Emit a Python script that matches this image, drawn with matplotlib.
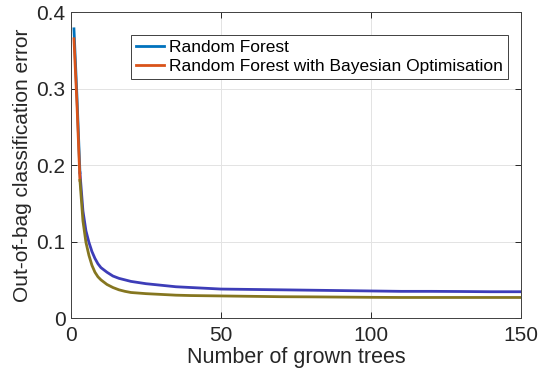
import numpy as np
import matplotlib
matplotlib.use('Agg')
import matplotlib.pyplot as plt

plt.rcParams['font.family'] = ['Liberation Sans', 'DejaVu Sans']

# number of grown trees and out-of-bag error
trees = [1, 2, 3, 4, 5, 6, 7, 8, 9, 10, 12, 14, 16, 18, 20, 25, 30, 35, 40,
         50, 60, 70, 80, 90, 100, 110, 120, 130, 140, 150]
err_rf = [0.378, 0.29, 0.19, 0.14, 0.114, 0.099, 0.087, 0.078, 0.071, 0.066,
          0.060, 0.055, 0.052, 0.050, 0.048, 0.045, 0.043, 0.041, 0.040,
          0.038, 0.0375, 0.037, 0.0365, 0.036, 0.0355, 0.035, 0.035, 0.0348,
          0.0345, 0.0345]
err_bo = [0.365, 0.28, 0.18, 0.127, 0.099, 0.082, 0.069, 0.060, 0.054, 0.050,
          0.044, 0.040, 0.037, 0.035, 0.0335, 0.032, 0.031, 0.030, 0.0295,
          0.029, 0.0285, 0.028, 0.0278, 0.0275, 0.0272, 0.027, 0.027, 0.027,
          0.027, 0.027]
labels = ['Random Forest', 'Random Forest with Bayesian Optimisation']

x = np.array(trees)
rf = np.array(err_rf)
bo = np.array(err_bo)
k = 3  # colour changes after the first few points in the reference

fig = plt.figure(figsize=(5.5, 3.81), dpi=100)
ax = fig.add_axes([0.129, 0.165, 0.818, 0.8035])

ax.plot(x[:k], rf[:k], color='#0072BD', lw=2, label=labels[0], zorder=3)
ax.plot(x[:k], bo[:k], color='#D95319', lw=2, label=labels[1], zorder=4)
ax.plot(x[k - 1:], rf[k - 1:], color='#3d3db8', lw=2, zorder=3)
ax.plot(x[k - 1:], bo[k - 1:], color='#857620', lw=2, zorder=4)

ax.set_xlim(0, 150)
ax.set_ylim(0, 0.4)
ax.set_xticks([0, 50, 100, 150])
ax.set_yticks([0, 0.1, 0.2, 0.3, 0.4])
ax.set_yticklabels(['0', '0.1', '0.2', '0.3', '0.4'])
ax.grid(True, color='#e3e3e3', lw=0.7)
ax.set_axisbelow(True)
ax.tick_params(direction='in', length=4, width=0.7, top=True, right=True,
               labelsize=15, colors='#262626', pad=4)
ax.tick_params(axis='x', pad=6)
for s in ax.spines.values():
    s.set_color('#404040')
    s.set_linewidth(0.7)

ax.set_xlabel('Number of grown trees', fontsize=15.5, color='#262626', labelpad=1)
ax.set_ylabel('Out-of-bag classification error', fontsize=15, color='#262626', labelpad=3)

leg = ax.legend(loc='upper left', bbox_to_anchor=(0.133, 0.925), borderaxespad=0,
                fontsize=12.5, fancybox=False, framealpha=1, handlelength=1.6,
                handletextpad=0.3, borderpad=0.3, labelspacing=0.2)
leg.get_frame().set_edgecolor('#404040')
leg.get_frame().set_linewidth(0.7)

fig.savefig('out.png', dpi=100)
